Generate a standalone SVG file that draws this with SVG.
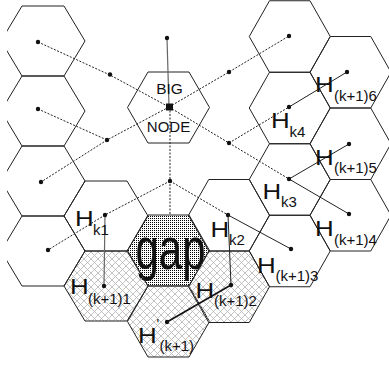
<svg xmlns="http://www.w3.org/2000/svg" width="389" height="366" viewBox="0 0 389 366">
<defs>
<pattern id="hatch" patternUnits="userSpaceOnUse" width="7" height="7"><path d="M0,0L7,7M7,0L0,7" stroke="#b4b4b4" stroke-width="0.8" fill="none"/></pattern>
<pattern id="dots" patternUnits="userSpaceOnUse" width="2" height="2"><rect width="2" height="2" fill="#fff"/><rect width="1" height="1" fill="#000"/></pattern>
<clipPath id="clipL"><rect x="7" y="0" width="382" height="366"/></clipPath>
</defs>
<style>
.hex{fill:none;stroke:#222;stroke-width:1}
.hx{fill:url(#hatch)}
.gp{fill:url(#dots)}
.dash{fill:none;stroke:#222;stroke-width:1;stroke-dasharray:2 1.5}
.sol{fill:none;stroke:#222;stroke-width:1}
.gray{fill:none;stroke:#666;stroke-width:1.2}
.thick{fill:none;stroke:#111;stroke-width:1.6}
.pt{fill:#111}
text{font-family:"Liberation Sans",Arial,Helvetica,sans-serif;fill:#111}
.H{font-size:22.5px}
.s{font-size:15px}
</style>
<rect width="389" height="366" fill="#fff"/>
<g id="cells" clip-path="url(#clipL)">
<g id="gap"><polygon class="hex gp" points="127.5,250.5 148,215 189,215 209.5,250.5 189,286 148,286"/><text font-size="42" transform="translate(135.5,269) scale(1,1.42)">gap</text></g>
<g id="Hp_k1"><polygon class="hex hx" points="127.5,321.5 148,286 189,286 209.5,321.5 189,357 148,357"/></g>
<g id="H_k1_1"><polygon class="hex hx" points="64,286 85,251 127,251 148,286 127,321 85,321"/></g>
<g id="H_k1_2"><polygon class="hex hx" points="188.5,286.75 208.75,251 249.25,251 269.5,286.75 249.25,322.5 208.75,322.5"/></g>
<g id="L1"><polygon class="hex" points="1,41 22,6 64,6 85,41 64,76 22,76"/></g>
<g id="L2"><polygon class="hex" points="1,111 22,76 64,76 85,111 64,146 22,146"/></g>
<g id="L3"><polygon class="hex" points="1,181 22,146 64,146 85,181 64,216 22,216"/></g>
<g id="L4"><polygon class="hex" points="1,251 22,216 64,216 85,251 64,286 22,286"/></g>
<g id="H_k1"><polygon class="hex" points="64,216 85,181 127,181 148,216 127,251 85,251"/></g>
<g id="bignode"><polygon class="hex" points="127.5,107.5 148,72 189,72 209.5,107.5 189,143 148,143"/></g>
<g id="H_k2"><polygon class="hex" points="188.5,215.25 208.75,179.5 249.25,179.5 269.5,215.25 249.25,251 208.75,251"/></g>
<g id="R_top"><polygon class="hex" points="249.25,36.5 269.5,0.75 310,0.75 330.25,36.5 310,72.25 269.5,72.25"/></g>
<g id="H_k4"><polygon class="hex" points="249.25,108 269.5,72.25 310,72.25 330.25,108 310,143.75 269.5,143.75"/></g>
<g id="H_k3"><polygon class="hex" points="249.25,179.5 269.5,143.75 310,143.75 330.25,179.5 310,215.25 269.5,215.25"/></g>
<g id="H_k1_3"><polygon class="hex" points="249.25,251 269.5,215.25 310,215.25 330.25,251 310,286.75 269.5,286.75"/></g>
<g id="H_k1_6"><polygon class="hex" points="310,72.25 330.25,36.5 370.75,36.5 391,72.25 370.75,108 330.25,108"/></g>
<g id="H_k1_5"><polygon class="hex" points="310,143.75 330.25,108 370.75,108 391,143.75 370.75,179.5 330.25,179.5"/></g>
<g id="H_k1_4"><polygon class="hex" points="310,215.25 330.25,179.5 370.75,179.5 391,215.25 370.75,251 330.25,251"/></g>
</g>
<g id="connectors">
<polyline class="dash" points="38,42 110,75 169,107"/>
<polyline class="dash" points="169,107 229,72 289,36"/>
<line class="dash" x1="169" y1="107" x2="107" y2="140"/>
<line class="dash" x1="107" y1="140" x2="41" y2="182"/>
<line class="dash" x1="38" y1="109" x2="107" y2="140"/>
<line class="dash" x1="169" y1="107" x2="229" y2="143"/>
<line class="dash" x1="229" y1="143" x2="289" y2="107"/>
<line class="dash" x1="229" y1="143" x2="289" y2="179"/>
<line class="dash" x1="170" y1="107" x2="170" y2="215" stroke="#555"/>
<line class="dash" x1="170" y1="181" x2="105" y2="215"/>
<line class="dash" x1="170" y1="181" x2="228" y2="215"/>
<line class="dash" x1="105" y1="215" x2="48" y2="250"/>
<line class="gray" x1="167" y1="38" x2="169" y2="107"/>
<line class="gray" x1="105" y1="215" x2="104" y2="286"/>
<line class="sol" x1="228" y1="215" x2="231" y2="285"/>
<line class="thick" x1="231" y1="285" x2="167" y2="322"/>
<line class="sol" x1="228" y1="215" x2="291" y2="249"/>
<line class="sol" x1="289" y1="107" x2="347" y2="72"/>
<line class="sol" x1="289" y1="179" x2="349" y2="144"/>
<line class="sol" x1="289" y1="179" x2="349" y2="214"/>
<g id="points">
<rect class="pt" x="166" y="103.5" width="7" height="7"/>
<circle class="pt" cx="38" cy="42" r="2.2"/>
<circle class="pt" cx="110" cy="74.5" r="2.2"/>
<circle class="pt" cx="167" cy="38" r="2.2"/>
<circle class="pt" cx="38" cy="109" r="2.2"/>
<circle class="pt" cx="107" cy="140" r="2.2"/>
<circle class="pt" cx="41" cy="182" r="2.2"/>
<circle class="pt" cx="170" cy="181" r="2.2"/>
<circle class="pt" cx="105" cy="215" r="2.2"/>
<circle class="pt" cx="48" cy="250" r="2.2"/>
<circle class="pt" cx="104" cy="286" r="2.2"/>
<circle class="pt" cx="229" cy="72" r="2.2"/>
<circle class="pt" cx="289" cy="36" r="2.2"/>
<circle class="pt" cx="229" cy="143" r="2.2"/>
<circle class="pt" cx="289" cy="107" r="2.2"/>
<circle class="pt" cx="347" cy="72" r="2.2"/>
<circle class="pt" cx="289" cy="179" r="2.2"/>
<circle class="pt" cx="349" cy="144" r="2.2"/>
<circle class="pt" cx="349" cy="214" r="2.2"/>
<circle class="pt" cx="228" cy="215" r="2.2"/>
<circle class="pt" cx="231" cy="285" r="2.2"/>
<circle class="pt" cx="291" cy="249" r="2.2"/>
<circle class="pt" cx="167" cy="322" r="2.2"/>
</g>
</g>
<g id="labels">
<text font-size="15.5" x="169.5" y="93.5" text-anchor="middle">BIG</text>
<text font-size="15" x="168.5" y="132" text-anchor="middle">NODE</text>
<g id="lbl_k1"><text class="H" transform="translate(75,226) scale(1.15,1)">H</text><text class="s" x="93" y="235">k1</text></g>
<g id="lbl_k1_1"><text class="H" transform="translate(70,294) scale(1.15,1)">H</text><text class="s" x="88" y="303.5">(k+1)1</text></g>
<g id="lbl_p"><text class="H" transform="translate(138,342.5) scale(1.15,1)">H</text><text font-size="14" x="156.5" y="329">'</text><text class="s" x="159.5" y="351">(k+1)</text></g>
<g id="lbl_k2"><text class="H" transform="translate(210.5,236.5) scale(1.15,1)">H</text><text class="s" x="229" y="245">k2</text></g>
<g id="lbl_k1_2"><text class="H" transform="translate(195.5,297.5) scale(1.15,1)">H</text><text class="s" x="214" y="306">(k+1)2</text></g>
<g id="lbl_k1_3"><text class="H" transform="translate(257,273) scale(1.15,1)">H</text><text class="s" x="275.5" y="281">(k+1)3</text></g>
<g id="lbl_k3"><text class="H" transform="translate(262.5,199) scale(1.15,1)">H</text><text class="s" x="281" y="207">k3</text></g>
<g id="lbl_k1_4"><text class="H" transform="translate(315,236) scale(1.15,1)">H</text><text class="s" x="334" y="244.5">(k+1)4</text></g>
<g id="lbl_k1_5"><text class="H" transform="translate(315,164.5) scale(1.15,1)">H</text><text class="s" x="334" y="173">(k+1)5</text></g>
<g id="lbl_k4"><text class="H" transform="translate(271,128) scale(1.15,1)">H</text><text class="s" x="289.5" y="137">k4</text></g>
<g id="lbl_k1_6"><text class="H" transform="translate(315,92) scale(1.15,1)">H</text><text class="s" x="334" y="101">(k+1)6</text></g>
</g>
</svg>
